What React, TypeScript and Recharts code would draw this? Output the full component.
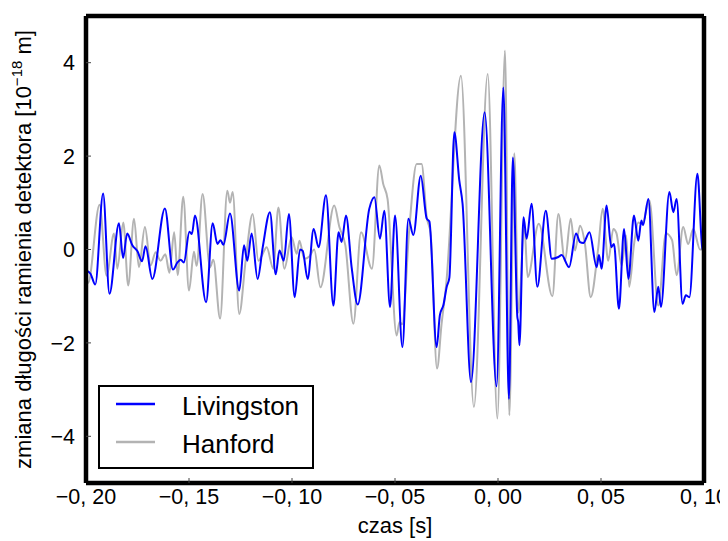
import { Legend, Line, LineChart, XAxis, YAxis } from "recharts";

const FONT = '"Liberation Sans", Arial, Helvetica, sans-serif';

const xTicks = [-0.2, -0.15, -0.1, -0.05, 0, 0.05, 0.1];
const yTicks = [-4, -2, 0, 2, 4];

const seriesNames = ["Livingston", "Hanford"];

// Livingston: czas [s] / zmiana długości [1e-18 m]
const livingstonTime = [
  -0.2, -0.1978, -0.1955, -0.1917, -0.1886, -0.184, -0.182, -0.18, -0.1775, -0.175,
  -0.1728, -0.1711, -0.1678, -0.1617, -0.1578, -0.1555, -0.154, -0.1525, -0.1498, -0.1486,
  -0.1471, -0.1417, -0.1385, -0.1362, -0.1347, -0.1333, -0.1301, -0.1256, -0.1233, -0.1217,
  -0.1196, -0.1167, -0.1142, -0.1107, -0.1079, -0.1061, -0.104, -0.1015, -0.0987, -0.0961,
  -0.0948, -0.0924, -0.0895, -0.0871, -0.0835, -0.0799, -0.0774, -0.0759, -0.0738, -0.071,
  -0.0681, -0.0625, -0.06, -0.0573, -0.0552, -0.0524, -0.05, -0.0464, -0.0435, -0.0411,
  -0.0375, -0.0346, -0.0333, -0.0298, -0.0282, -0.0265, -0.0249, -0.0236, -0.0212, -0.0188,
  -0.0172, -0.0131, -0.0065, -0.0007, 0.0026, 0.0053, 0.0072, 0.0094, 0.0098, 0.0104,
  0.0124, 0.0139, 0.0163, 0.0191, 0.0232, 0.0261, 0.0293, 0.0309, 0.0345, 0.0379,
  0.0398, 0.0414, 0.0444, 0.0479, 0.049, 0.0503, 0.0527, 0.055, 0.0563, 0.0587,
  0.0612, 0.0633, 0.066, 0.0681, 0.0696, 0.0704, 0.073, 0.0759, 0.0778, 0.0791,
  0.0832, 0.0851, 0.0867, 0.0896, 0.0912, 0.0929, 0.0968, 0.0992, 0.1,
];
const livingstonValue = [
  -0.45, -0.52, -0.75, 1.2, -0.95, 0.56, -0.18, 0.34, 0.09, -0.04,
  -0.25, 0.07, -0.63, 0.88, -0.43, -0.27, -0.22, -0.28, 0.38, 0.33,
  0.73, -1.13, 0.56, 0.12, 0.2, 0.1, 0.77, -0.88, 0.09, -0.24,
  0.34, -0.63, 0.05, 0.8, -0.53, -0.02, -0.24, 0.76, -1.02, 0.0,
  -0.03, -0.63, 0.44, 0.05, 1.16, -1.2, 0.37, 0.16, 0.73, -0.4,
  -1.18, 0.87, 1.12, 0.23, 0.83, -1.23, 0.73, -2.09, 0.66, 0.31,
  1.58, 0.66, 0.6, -2.09, -1.4, -1.19, -0.8, -0.6, 2.51, 1.48,
  0.98, -2.84, 2.94, -2.93, 3.47, -3.2, 1.97, -1.45, -1.55, -2.05,
  0.69, 0.23, 0.98, -0.8, 0.83, -0.2, -0.16, -0.12, -0.38, 0.34,
  0.16, 0.14, 0.37, -0.38, -0.12, -0.41, 0.94, 0.05, 0.12, -1.27,
  0.44, -0.63, 0.73, 0.19, 0.62, 0.52, 1.08, -1.34, -0.8, -1.23,
  1.23, 0.8, 1.08, -1.16, -0.98, -1.02, 1.62, 0.02, -0.05,
];

// Hanford
const hanfordTime = [
  -0.2, -0.199, -0.1934, -0.19, -0.1864, -0.1848, -0.1819, -0.1795, -0.1767, -0.1743,
  -0.1714, -0.1686, -0.1662, -0.1638, -0.1615, -0.1595, -0.1572, -0.1555, -0.1528, -0.15,
  -0.1476, -0.1463, -0.1434, -0.1398, -0.1382, -0.1349, -0.1314, -0.1301, -0.1288, -0.1256,
  -0.1225, -0.1191, -0.1163, -0.1145, -0.1123, -0.1091, -0.1066, -0.1037, -0.1002, -0.0977,
  -0.0964, -0.094, -0.0916, -0.0892, -0.0862, -0.0795, -0.077, -0.0741, -0.0702, -0.0665,
  -0.0612, -0.0576, -0.0557, -0.0536, -0.0492, -0.0478, -0.0465, -0.043, -0.0395, -0.0371,
  -0.0346, -0.0327, -0.0296, -0.0274, -0.0252, -0.018, -0.0117, -0.005, -0.0003, 0.0034,
  0.0055, 0.0079, 0.0099, 0.0128, 0.0144, 0.0198, 0.0264, 0.0293, 0.0325, 0.0353,
  0.0374, 0.0398, 0.0422, 0.045, 0.0487, 0.0508, 0.0535, 0.056, 0.0575, 0.06,
  0.0622, 0.0637, 0.066, 0.0681, 0.07, 0.0735, 0.0778, 0.0815, 0.0845, 0.0867,
  0.0899, 0.0923, 0.0948, 0.0981, 0.1,
];
const hanfordValue = [
  -0.55, -0.72, 0.96, -0.56, 0.34, -0.41, 0.58, -0.77, 0.66, -0.38,
  0.48, -0.34, -0.06, -0.24, -0.1, -0.5, 0.37, -0.55, 1.13, -0.88,
  -0.05, -0.35, 1.19, -0.38, -0.22, -1.48, 1.26, 1.0, 1.23, -1.38,
  -0.24, 0.76, -0.24, -0.12, 0.05, -0.41, 0.9, -0.41, 0.26, -0.09,
  0.19, -0.2, -0.15, 0.0, -0.81, 0.94, 0.48, 0.09, -1.59, 0.37,
  -0.41, 1.8, 1.4, 1.08, -1.84, -1.55, -1.6, 0.48, 1.83, 1.83,
  0.69, 0.34, -2.55, -1.6, -0.77, 3.72, -3.37, 3.76, -3.62, 4.26,
  -3.55, 2.06, -1.35, 0.5, -0.59, 0.55, -1.0, 0.76, -0.24, 0.66,
  -0.02, 0.51, 0.12, -1.02, 0.05, 0.87, -0.24, 0.44, 0.35, -0.34,
  0.3, -0.8, 0.1, 0.58, 0.55, 1.05, -1.2, 0.35, 0.2, -0.55,
  0.48, 0.12, 0.44, 0.0, 0.02,
];

const livingston = livingstonTime.map((t, i) => ({ t, v: livingstonValue[i] }));
const hanford = hanfordTime.map((t, i) => ({ t, v: hanfordValue[i] }));

const BLUE = "#0000ff";
const GRAY = "#b3b3b3";
const frame = { stroke: "#000", strokeWidth: 4.5 };
const tickLine = { stroke: "#444", strokeWidth: 1 };
const tickStyle = { fill: "#000", fontSize: 21.5, fontFamily: FONT };

const formatX = (v: number) =>
  (v < -1e-9 ? "\u2212" : "") + Math.abs(v).toFixed(2).replace(".", ", ");
const formatY = (v: number) => (v < 0 ? "\u2212" : "") + Math.abs(v);

function YTitle(props: any) {
  const vb = props.viewBox || { y: 8, height: 467 };
  const cy = vb.y + vb.height / 2;
  return (
    <text
      transform={`translate(23, ${cy}) rotate(-90)`}
      textAnchor="middle"
      fontSize={22}
      fontFamily={FONT}
      fill="#000"
    >
      zmiana długości ramienia detektora [10
      <tspan dy={-9} fontSize={15}>
        −18
      </tspan>
      <tspan dy={9}> m]</tspan>
    </text>
  );
}

function LegendBox() {
  const colors = [BLUE, GRAY];
  return (
    <svg width={216} height={84} style={{ display: "block" }}>
      <rect x={1} y={1} width={214} height={82} fill="#fff" stroke="#000" strokeWidth={2} />
      {seriesNames.map((name, i) => (
        <g key={name}>
          <line x1={18} x2={57} y1={19 + i * 38} y2={19 + i * 38} stroke={colors[i]} strokeWidth={2.5} />
          <text x={84} y={30 + i * 38} fontSize={26} fontFamily={FONT} fill="#000">
            {name}
          </text>
        </g>
      ))}
    </svg>
  );
}

export default function App() {
  return (
    <div style={{ width: 720, height: 533 }}>
      <LineChart width={720} height={533} margin={{ top: 7, right: 23, bottom: 0, left: 18 }}>
        <XAxis
          dataKey="t"
          type="number"
          domain={[-0.2, 0.1]}
          ticks={xTicks}
          interval={0}
          allowDataOverflow
          height={58}
          tickFormatter={formatX}
          tick={tickStyle}
          tickSize={-5}
          tickMargin={11}
          axisLine={frame}
          tickLine={tickLine}
          label={{ value: "czas [s]", position: "insideBottom", offset: 8, fill: "#000", fontSize: 22, fontFamily: FONT }}
        />
        <XAxis
          xAxisId="top"
          dataKey="t"
          orientation="top"
          type="number"
          domain={[-0.2, 0.1]}
          ticks={xTicks}
          interval={0}
          allowDataOverflow
          height={1}
          tick={false}
          tickSize={-5}
          axisLine={frame}
          tickLine={tickLine}
        />
        <YAxis
          type="number"
          domain={[-5, 5]}
          ticks={yTicks}
          interval={0}
          allowDataOverflow
          width={60}
          tickFormatter={formatY}
          tick={tickStyle}
          tickSize={-5}
          tickMargin={16}
          axisLine={frame}
          tickLine={tickLine}
          label={{ content: (p: any) => <YTitle {...p} /> }}
        />
        <YAxis
          yAxisId="right"
          orientation="right"
          type="number"
          domain={[-5, 5]}
          ticks={yTicks}
          interval={0}
          allowDataOverflow
          width={1}
          tick={false}
          tickSize={-5}
          axisLine={frame}
          tickLine={tickLine}
        />
        <Line
          data={hanford}
          dataKey="v"
          name="Hanford"
          type="monotone"
          stroke={GRAY}
          strokeWidth={2}
          dot={false}
          isAnimationActive={false}
        />
        <Line
          data={livingston}
          dataKey="v"
          name="Livingston"
          type="monotone"
          stroke={BLUE}
          strokeWidth={2}
          dot={false}
          isAnimationActive={false}
        />
        {/* invisible series that keeps the top / right frame axes alive */}
        <Line
          xAxisId="top"
          yAxisId="right"
          data={livingston}
          dataKey="v"
          stroke="none"
          strokeWidth={0}
          dot={false}
          activeDot={false}
          legendType="none"
          isAnimationActive={false}
        />
        <Legend
          layout="vertical"
          align="center"
          verticalAlign="middle"
          content={() => <LegendBox />}
          wrapperStyle={{ left: 90, top: 377, width: 216, height: 84 }}
        />
      </LineChart>
    </div>
  );
}
